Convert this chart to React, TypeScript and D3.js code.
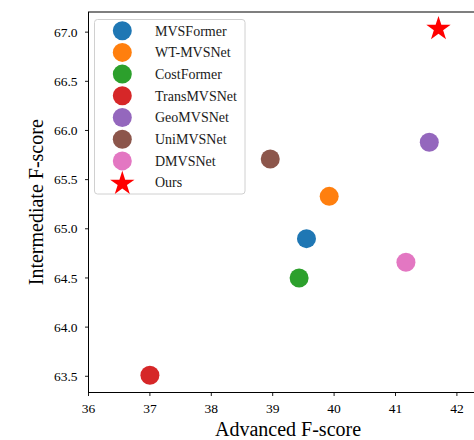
import React from "react";
import * as d3 from "d3";

const methods = ["MVSFormer", "WT-MVSNet", "CostFormer", "TransMVSNet", "GeoMVSNet", "UniMVSNet", "DMVSNet"];
const advanced = [39.55, 39.92, 39.43, 37.0, 41.55, 38.96, 41.17];
const intermediate = [64.9, 65.33, 64.5, 63.51, 65.88, 65.71, 64.66];
const colors = ["#1f77b4", "#ff7f0e", "#2ca02c", "#d62728", "#9467bd", "#8c564b", "#e377c2"];
const oursName = "Ours";
const oursAdvanced = 41.7;
const oursIntermediate = 67.034;
const xTicks = [36, 37, 38, 39, 40, 41, 42];
const yTicks = [63.5, 64.0, 64.5, 65.0, 65.5, 66.0, 66.5, 67.0];

const W = 474;
const H = 440;
const FONT = "'Liberation Serif', 'DejaVu Serif', serif";

export default function App() {
  const x = d3.scaleLinear().domain([36, 42.5]).range([88.5, 487.6]);
  const y = d3.scaleLinear().domain([63.335, 67.205]).range([392.5, 12]);
  const fx = d3.format("d");
  const fy = d3.format(".1f");

  const left = x.range()[0];
  const right = x.range()[1];
  const top = y.range()[1];
  const bottom = y.range()[0];

  const star = d3.symbol().type(d3.symbolStar).size(184)();

  const legX = 94.5;
  const legY = 19.5;
  const legW = 150.5;
  const legH = 174.5;
  const rowY0 = 30.7;
  const rowDy = 21.7;
  const legendItems = [...methods, oursName];

  return (
    <svg
      width={W}
      height={H}
      style={{ position: "absolute", left: 0, top: 0, background: "#fff" }}
    >
      <rect x={0} y={0} width={W} height={H} fill="#fff" />
      <rect
        x={left}
        y={top}
        width={right - left}
        height={bottom - top}
        fill="none"
        stroke="#000"
        strokeWidth={1}
      />
      {/* x axis */}
      <g transform={`translate(0,${bottom})`}>
        {xTicks.map((t) => (
          <g key={t} transform={`translate(${x(t)},0)`}>
            <line y1={0} y2={3.5} stroke="#000" strokeWidth={0.9} />
            <text y={20.5} textAnchor="middle" fontFamily={FONT} fontSize={13.5} fill="#000">
              {fx(t)}
            </text>
          </g>
        ))}
      </g>
      {/* y axis */}
      <g transform={`translate(${left},0)`}>
        {yTicks.map((t) => (
          <g key={t} transform={`translate(0,${y(t)})`}>
            <line x1={0} x2={-3.5} stroke="#000" strokeWidth={0.9} />
            <text x={-11} y={4.6} textAnchor="end" fontFamily={FONT} fontSize={13.5} fill="#000">
              {fy(t)}
            </text>
          </g>
        ))}
      </g>

      {/* points */}
      {methods.map((m, i) => (
        <circle key={m} cx={x(advanced[i])} cy={y(intermediate[i])} r={9.5} fill={colors[i]} />
      ))}
      <path d={star!} transform={`translate(${x(oursAdvanced)},${y(oursIntermediate)})`} fill="#ff0000" />

      {/* legend */}
      <rect
        x={legX}
        y={legY}
        width={legW}
        height={legH}
        rx={3}
        ry={3}
        fill="#fff"
        fillOpacity={0.8}
        stroke="#d0d0d0"
        strokeWidth={1}
      />
      {legendItems.map((name, i) => {
        const cy = rowY0 + i * rowDy;
        return (
          <g key={name}>
            {i < methods.length ? (
              <circle cx={122.3} cy={cy} r={9.5} fill={colors[i]} />
            ) : (
              <path d={star!} transform={`translate(122.3,${cy + 1})`} fill="#ff0000" />
            )}
            <text x={155} y={cy + 4.8} fontFamily={FONT} fontSize={14} fill="#1a1a1a">
              {name}
            </text>
          </g>
        );
      })}

      {/* axis labels */}
      <text x={(left + right) / 2} y={436} textAnchor="middle" fontFamily={FONT} fontSize={20} fill="#000">
        Advanced F-score
      </text>
      <text
        transform={`translate(43,${(top + bottom) / 2}) rotate(-90)`}
        textAnchor="middle"
        fontFamily={FONT}
        fontSize={20}
        fill="#000"
      >
        Intermediate F-score
      </text>
    </svg>
  );
}
